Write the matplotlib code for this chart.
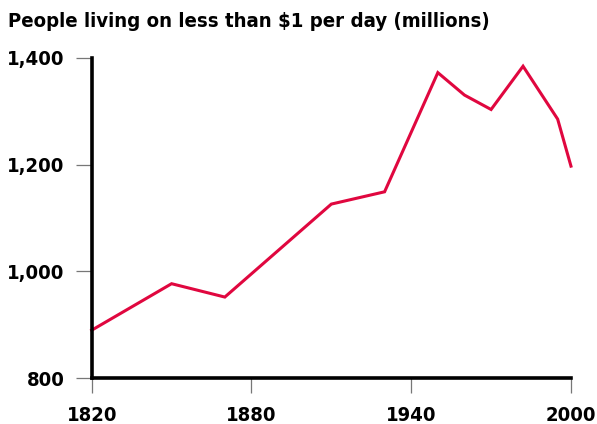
import matplotlib
matplotlib.use("Agg")
import matplotlib.pyplot as plt
from matplotlib import font_manager
import os

# People living on less than $1 per day (millions)
years = [1820, 1850, 1870, 1910, 1930, 1950, 1960, 1970, 1982, 1995, 2000]
people = [890, 977, 952, 1126, 1149, 1372, 1330, 1303, 1384, 1285, 1197]

x_ticks = [1820, 1880, 1940, 2000]
y_ticks = [800, 1000, 1200, 1400]
y_tick_labels = ["800", "1,000", "1,200", "1,400"]

title = "People living on less than $1 per day (millions)"


def find_font(candidates, size, fallback_weight='bold'):
    """Return FontProperties for the first font file found (exact name)"""
    files = font_manager.findSystemFonts()
    by_name = {os.path.splitext(os.path.basename(f))[0].lower(): f for f in files}
    for c in candidates:
        if c.lower() in by_name:
            return font_manager.FontProperties(fname=by_name[c.lower()], size=size)
    return font_manager.FontProperties(family='DejaVu Sans', weight=fallback_weight,
                                       size=size)


title_font = find_font(['DejaVuSansCondensed-Bold'], 14.6)
tick_font = find_font(['DejaVuSansCondensed-Bold'], 14.5)

fig = plt.figure(figsize=(5.97, 4.24), dpi=100)
ax = fig.add_axes([0.1536, 0.1078, 0.8028, 0.7562])

ax.plot(years, people, color='#e0073f', linewidth=2.2, solid_joinstyle='miter', clip_on=False)

ax.set_xlim(1820, 2000)
ax.set_ylim(800, 1400)
ax.set_xticks(x_ticks)
ax.set_xticklabels([str(t) for t in x_ticks])
ax.set_yticks(y_ticks)
ax.set_yticklabels(y_tick_labels)

for s in ['top', 'right']:
    ax.spines[s].set_visible(False)
for s in ['left', 'bottom']:
    ax.spines[s].set_linewidth(2.6)
    ax.spines[s].set_color('black')
    ax.spines[s].set_capstyle('projecting')

ax.tick_params(axis='y', length=11.5, width=0.9, color='#777777', pad=8)
ax.tick_params(axis='x', length=11, width=0.9, color='#777777', pad=9)
for lbl in ax.get_xticklabels() + ax.get_yticklabels():
    lbl.set_fontproperties(tick_font)

fig.text(0.013, 0.95, title, fontproperties=title_font, ha='left', va='center')

fig.savefig('out.png', dpi=100)
